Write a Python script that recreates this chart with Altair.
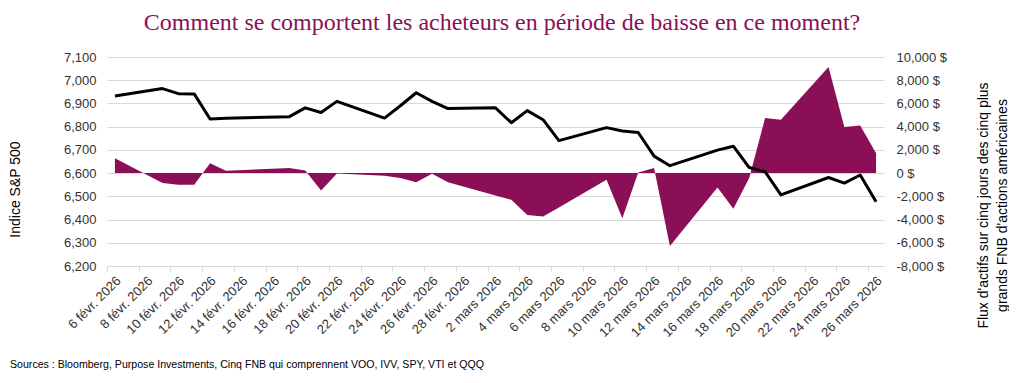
import json
import altair as alt
import pandas as pd

# ---------------- data ----------------
dates = [
    "2026-02-06", "2026-02-09", "2026-02-10", "2026-02-11", "2026-02-12", "2026-02-13",
    "2026-02-17", "2026-02-18", "2026-02-19", "2026-02-20", "2026-02-23", "2026-02-24",
    "2026-02-25", "2026-02-26", "2026-02-27", "2026-03-02", "2026-03-03", "2026-03-04",
    "2026-03-05", "2026-03-06", "2026-03-09", "2026-03-10", "2026-03-11", "2026-03-12",
    "2026-03-13", "2026-03-16", "2026-03-17", "2026-03-18", "2026-03-19", "2026-03-20",
    "2026-03-23", "2026-03-24", "2026-03-25", "2026-03-26",
]
sp500 = [
    6932, 6964, 6942, 6941, 6833, 6836,
    6843, 6881, 6861, 6909, 6837, 6890,
    6946, 6909, 6878, 6881, 6817, 6869,
    6830, 6740, 6796, 6781, 6775, 6673,
    6632, 6699, 6716, 6624, 6606, 6506,
    6581, 6557, 6592, 6477,
]
flows = [
    1290, -860, -1010, -1010, 860, 200,
    450, 230, -1500, -30, -230, -430,
    -780, -60, -780, -1930, -2300, -3600,
    -3740, -2960, -580, -3880, 50, 430,
    -6270, -1240, -3080, -430, 4740, 4600,
    9140, 3970, 4100, 1720,
]
tick_labels = [
    "6 févr. 2026", "8 févr. 2026", "10 févr. 2026", "12 févr. 2026", "14 févr. 2026",
    "16 févr. 2026", "18 févr. 2026", "20 févr. 2026", "22 févr. 2026", "24 févr. 2026",
    "26 févr. 2026", "28 févr. 2026", "2 mars 2026", "4 mars 2026", "6 mars 2026",
    "8 mars 2026", "10 mars 2026", "12 mars 2026", "14 mars 2026", "16 mars 2026",
    "18 mars 2026", "20 mars 2026", "22 mars 2026", "24 mars 2026", "26 mars 2026",
]
title_text = "Comment se comportent les acheteurs en période de baisse en ce moment?"
left_title = "Indice S&P 500"
right_title = ["Flux d'actifs sur cinq jours des cinq plus", "grands FNB d'actions américaines"]
source_text = "Sources : Bloomberg, Purpose Investments, Cinq FNB qui comprennent VOO, IVV, SPY, VTI et QQQ"

start = pd.Timestamp(dates[0])
df = pd.DataFrame({"date": pd.to_datetime(dates), "sp500": sp500, "flows": flows})
df["day"] = (df["date"] - start).dt.days + 0.5
df = df.drop(columns=["date"])

PURPLE = "#8A0F57"
GRID = "#D9D9D9"
TXT = "#333333"
FONT = "Liberation Sans"

label_expr = json.dumps(tick_labels, ensure_ascii=False) + "[round(datum.value / 2)]"

x_axis = alt.Axis(
    values=list(range(0, 49, 2)),
    labelExpr=label_expr,
    labelAngle=-45,
    labelAlign="right",
    labelBaseline="top",
    labelOffset=7,
    labelPadding=3,
    labelFont=FONT,
    labelFontSize=13,
    labelColor=TXT,
    labelOverlap=False,
    labelBound=False,
    labelFlush=False,
    tickSize=5,
    tickColor=GRID,
    domainColor=GRID,
    grid=False,
    title=None,
)
x_scale = alt.Scale(domain=[0, 49], nice=False, zero=False)

area = alt.Chart(df).mark_area(color=PURPLE, opacity=1).encode(
    x=alt.X("day:Q", scale=x_scale, axis=x_axis),
    y=alt.Y(
        "flows:Q",
        scale=alt.Scale(domain=[-8000, 10000], nice=False, zero=False),
        axis=alt.Axis(
            orient="right",
            values=list(range(-8000, 10001, 2000)),
            labelExpr="(datum.value < 0 ? '-' : '') + format(abs(datum.value), ',') + ' $'",
            labelFont=FONT,
            labelFontSize=13,
            labelColor=TXT,
            labelPadding=12,
            ticks=False,
            domain=False,
            grid=False,
            title=right_title,
            titleFont=FONT,
            titleFontSize=14,
            titleFontWeight="normal",
            titleColor="#000000",
            titleAngle=270,
            titleAlign="center",
            titleBaseline="alphabetic",
            titleLineHeight=19,
            titleX=103,
            titleY=148,
        ),
    ),
    y2=alt.datum(0),
)

line = alt.Chart(df).mark_line(color="#000000", strokeWidth=3, strokeJoin="round").encode(
    x=alt.X("day:Q", scale=x_scale, axis=x_axis),
    y=alt.Y(
        "sp500:Q",
        scale=alt.Scale(domain=[6200, 7100], nice=False, zero=False),
        axis=alt.Axis(
            orient="left",
            values=list(range(6200, 7101, 100)),
            labelExpr="format(datum.value, ',')",
            labelFont=FONT,
            labelFontSize=13,
            labelColor=TXT,
            labelPadding=11,
            ticks=False,
            domain=False,
            grid=True,
            gridColor=GRID,
            gridWidth=1,
            title=left_title,
            titleFont=FONT,
            titleFontSize=14,
            titleFontWeight="normal",
            titleColor="#000000",
            titleAngle=270,
            titleAlign="center",
            titleBaseline="alphabetic",
            titleX=-88,
            titleY=132,
        ),
    ),
)

title_layer = alt.Chart(pd.DataFrame({"t": [title_text]})).mark_text(
    align="center", baseline="alphabetic", font="Liberation Serif", fontSize=24,
    color=PURPLE
).encode(text="t:N", x=alt.value(395), y=alt.value(-27))

footnote = alt.Chart(pd.DataFrame({"t": [source_text]})).mark_text(
    align="left", baseline="alphabetic", font=FONT, fontSize=10.6, color="#000000"
).encode(text="t:N", x=alt.value(-97), y=alt.value(311))

chart = (
    alt.layer(area, line, title_layer, footnote)
    .resolve_scale(y="independent")
    .properties(
        width=777,
        height=209,
        autosize=alt.AutoSizeParams(type="none"),
        padding={"left": 99, "top": 49, "right": 125, "bottom": 110},
    )
    .configure_view(stroke=None)
)

chart.save("out.html", embed_options={"renderer": "svg", "actions": False})
